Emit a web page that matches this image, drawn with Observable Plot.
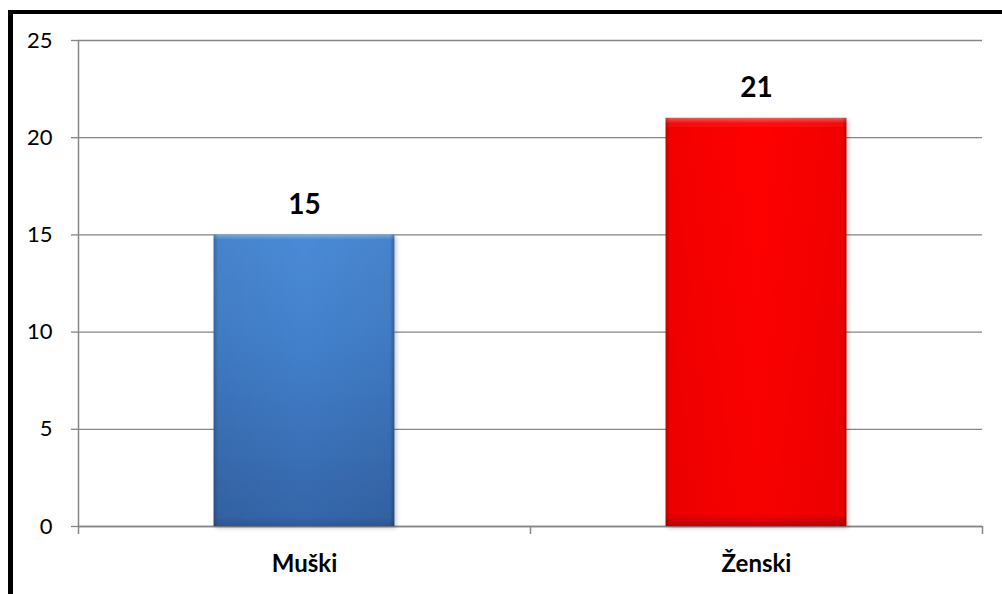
<!DOCTYPE html>
<html>
<head>
<meta charset="utf-8">
<script src="https://cdn.jsdelivr.net/npm/d3@7"></script>
<script src="https://cdn.jsdelivr.net/npm/@observablehq/plot@0.6"></script>
<style>
  html, body { margin: 0; padding: 0; background: #fff; }
  #wrap { position: relative; width: 1002px; height: 594px; overflow: hidden; }
  #frame { position: absolute; left: 8px; top: 10px; right: -20px; bottom: -20px;
           border-left: 5px solid #000; border-top: 4px solid #000; pointer-events: none; }
  svg { display: block; }
</style>
</head>
<body>
<div id="wrap"><div id="frame"></div></div>
<script>
const categories = ["Muški", "Ženski"];
const values = [15, 21];
const gradients = ["blueGrad", "redGrad"];
const yTicks = [0, 5, 10, 15, 20, 25];

const data = categories.map((c, i) => ({ cat: c, value: values[i], i, grad: gradients[i] }));
const boundaries = d3.range(categories.length + 1);

const defsMark = () => {
  const defs = d3.create("svg:defs");
  const lg = (id, stops, x2 = 0, y2 = 1) => {
    const g = defs.append("linearGradient").attr("id", id)
      .attr("x1", 0).attr("y1", 0).attr("x2", x2).attr("y2", y2);
    stops.forEach(([o, c, a = 1]) => g.append("stop").attr("offset", o).attr("stop-color", c).attr("stop-opacity", a));
  };
  lg("blueGrad", [[0, "#7ab4ee"], [0.018, "#4a8ad6"], [0.35, "#4381cd"], [0.97, "#3566aa"], [1, "#2d5a96"]]);
  lg("redGrad", [[0, "#ff5a5a"], [0.014, "#ff0a0a"], [0.04, "#ff0000"], [0.97, "#f80000"], [1, "#c00000"]]);
  lg("edgeShade", [[0, "#000", 0.25], [0.025, "#000", 0.05], [0.5, "#000", 0], [0.975, "#000", 0.05], [1, "#000", 0.28]], 1, 0);
  const f = defs.append("filter").attr("id", "shadow").attr("x", "-10%").attr("y", "-10%").attr("width", "130%").attr("height", "130%");
  f.append("feDropShadow").attr("dx", 2).attr("dy", 2).attr("stdDeviation", 2).attr("flood-color", "#000").attr("flood-opacity", 0.22);
  return defs.node();
};

const chart = Plot.plot({
  width: 1002,
  height: 594,
  marginLeft: 78,
  marginRight: 20,
  marginTop: 40,
  marginBottom: 68,
  style: { fontFamily: "Lato, 'Open Sans', sans-serif", background: "transparent" },
  x: { type: "linear", domain: [0, categories.length], axis: null },
  y: { type: "linear", domain: [0, 25], axis: null, label: null },
  marks: [
    defsMark,
    Plot.gridY(yTicks, { stroke: "#868686", strokeOpacity: 1, strokeWidth: 1.3 }),
    Plot.axisY(yTicks, { tickSize: 7, tickPadding: 19, fontSize: 22, stroke: "#868686", strokeWidth: 1.3, fill: "#000", label: null }),
    Plot.axisX(boundaries, { tickSize: 8, tickFormat: () => "", stroke: "#868686", strokeWidth: 1.5, label: null }),
    Plot.ruleY([0], { stroke: "#868686", strokeWidth: 1.5 }),
    Plot.ruleX([0], { y1: 0, y2: 25, stroke: "#868686", strokeWidth: 1.5 }),
    Plot.rectY(data, { x1: d => d.i + 0.3, x2: d => d.i + 0.7, y: "value", fill: d => `url(#${d.grad})`,
      render: (index, scales, values, dims, ctx, next) => {
        const g = next(index, scales, values, dims, ctx);
        g.setAttribute("filter", "url(#shadow)");
        return g;
      } }),
    Plot.rectY(data, { x1: d => d.i + 0.3, x2: d => d.i + 0.7, y: "value", fill: "url(#edgeShade)" }),
    Plot.text(data, { x: d => d.i + 0.5, y: "value", text: d => String(d.value), dy: -30, fontSize: 28, fontWeight: "bold", fill: "#000" }),
    Plot.text(data, { x: d => d.i + 0.5, y: 0, text: "cat", dy: 38, fontSize: 24, fontWeight: "bold", fill: "#000" })
  ]
});

document.getElementById("wrap").prepend(chart);
</script>
</body>
</html>
